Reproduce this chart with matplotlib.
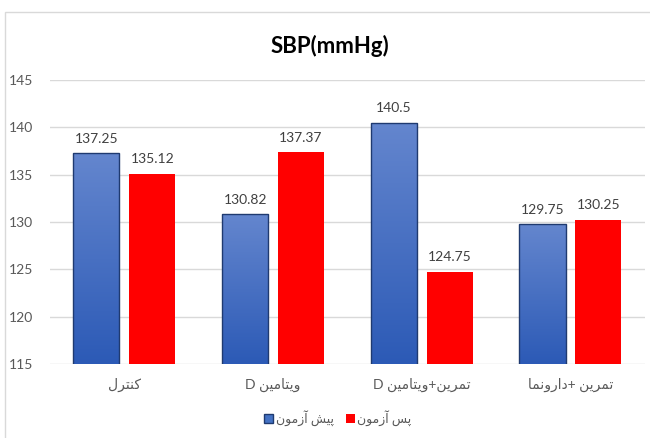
import numpy as np
import matplotlib
matplotlib.use('Agg')
import matplotlib.pyplot as plt
from matplotlib.colors import LinearSegmentedColormap
from matplotlib.patches import Patch, Rectangle

# --- data ---
title = 'SBP(mmHg)'
categories = ['کنترل', 'ویتامین D', 'تمرین+ویتامین D', 'تمرین +دارونما']
series_names = ['پیش آزمون', 'پس آزمون']
pre_values = [137.25, 130.82, 140.5, 129.75]
post_values = [135.12, 137.37, 124.75, 130.25]
y_ticks = [115, 120, 125, 130, 135, 140, 145]

# minimal Persian shaping (matplotlib has no bidi / joining)
# char -> (isolated, final, initial, medial); right-joining letters have only 2
FORMS = {
    'ا': ('\uFE8D', '\uFE8E'), 'آ': ('\uFE81', '\uFE82'),
    'د': ('\uFEA9', '\uFEAA'), 'ر': ('\uFEAD', '\uFEAE'),
    'ز': ('\uFEAF', '\uFEB0'), 'و': ('\uFEED', '\uFEEE'),
    'ب': ('\uFE8F', '\uFE90', '\uFE91', '\uFE92'),
    'ت': ('\uFE95', '\uFE96', '\uFE97', '\uFE98'),
    'س': ('\uFEB1', '\uFEB2', '\uFEB3', '\uFEB4'),
    'ش': ('\uFEB5', '\uFEB6', '\uFEB7', '\uFEB8'),
    'ل': ('\uFEDD', '\uFEDE', '\uFEDF', '\uFEE0'),
    'م': ('\uFEE1', '\uFEE2', '\uFEE3', '\uFEE4'),
    'ن': ('\uFEE5', '\uFEE6', '\uFEE7', '\uFEE8'),
    'ک': ('\uFB8E', '\uFB8F', '\uFB90', '\uFB91'),
    'ی': ('\uFBFC', '\uFBFD', '\uFBFE', '\uFBFF'),
    'پ': ('\uFB56', '\uFB57', '\uFB58', '\uFB59'),
}


def shape_word(w):
    out = []
    for i, c in enumerate(w):
        if c not in FORMS:
            out.append(c)
            continue
        prev = w[i - 1] if i > 0 else ''
        nxt = w[i + 1] if i + 1 < len(w) else ''
        jp = prev in FORMS and len(FORMS[prev]) == 4
        jn = nxt in FORMS and len(FORMS[c]) == 4
        f = FORMS[c]
        if jp and jn:
            out.append(f[3])
        elif jp:
            out.append(f[1])
        elif jn:
            out.append(f[2])
        else:
            out.append(f[0])
    return ''.join(out)


def split_runs(s, key):
    runs, cur = [], ''
    for ch in s:
        if cur and key(cur[-1]) != key(ch):
            runs.append(cur)
            cur = ''
        cur += ch
    runs.append(cur)
    return runs


def rtl(s):
    # shape then lay out right-to-left, latin words stay left-to-right
    vis = []
    for t in split_runs(s, lambda c: c in FORMS):
        if t[0] in FORMS:
            vis.append(shape_word(t)[::-1])
        else:
            parts = [p if p.isalnum() else p[::-1] for p in split_runs(t, str.isalnum)]
            vis.append(''.join(parts[::-1]))
    return ''.join(vis[::-1])


plt.rcParams['font.family'] = ['Lato', 'DejaVu Sans']

fig = plt.figure(figsize=(6.5, 4.38), dpi=100)
fig.patches.append(Rectangle((0.0077, -0.01), 1.0, 0.983, transform=fig.transFigure,
                             fill=False, edgecolor='#D9D9D9', linewidth=1.0))
ax = fig.add_axes([0.077, 0.169, 0.915, 0.648])

x = np.arange(len(categories))
w = 0.31
off = 0.188

blue_bars = ax.bar(x - off, pre_values, w, facecolor='none', edgecolor='#1F3A70',
                   linewidth=1.0, zorder=3)
red_bars = ax.bar(x + off, post_values, w, color='#FF0000', zorder=3)

# gradient fill for the blue bars
cmap = LinearSegmentedColormap.from_list('g', ['#2C5AB6', '#6486CE'])
grad = np.linspace(0, 1, 256).reshape(-1, 1)
for b in blue_bars:
    x0, y0 = b.get_x(), 115
    im = ax.imshow(grad, cmap=cmap, origin='lower', aspect='auto',
                   extent=[x0, x0 + b.get_width(), y0, b.get_height()], zorder=2)
    im.set_clip_path(b)

ax.bar_label(blue_bars, fmt='%g', padding=6, fontsize=10, color='#404040')
ax.bar_label(red_bars, fmt='%g', padding=6, fontsize=10, color='#404040')

ax.set_xlim(-0.5, len(categories) - 0.5)
ax.set_ylim(115, 145)
ax.set_yticks(y_ticks)
ax.set_xticks(x)
ax.set_xticklabels([rtl(c) for c in categories], fontsize=10, color='#595959')
ax.tick_params(axis='y', length=0, pad=12, labelsize=10, labelcolor='#595959')
ax.tick_params(axis='x', length=0, pad=10)
ax.grid(axis='y', color='#D9D9D9', linewidth=1.0, zorder=0)
ax.set_axisbelow(True)
for s in ax.spines.values():
    s.set_visible(False)

fig.text(0.508, 0.895, title, ha='center', va='center', fontsize=16,
         fontweight='bold', color='#000000')

handles = [Patch(facecolor='#4472C4', edgecolor='#1F3A70', linewidth=1.0),
           Patch(facecolor='#FF0000')]
fig.legend(handles, [rtl(s) for s in series_names], loc='center',
           bbox_to_anchor=(0.52, 0.045), ncol=2, frameon=False, fontsize=9,
           labelcolor='#595959', handlelength=0.7, handleheight=0.7,
           handletextpad=0.2, columnspacing=1.0)

fig.savefig('out.png', dpi=100)
